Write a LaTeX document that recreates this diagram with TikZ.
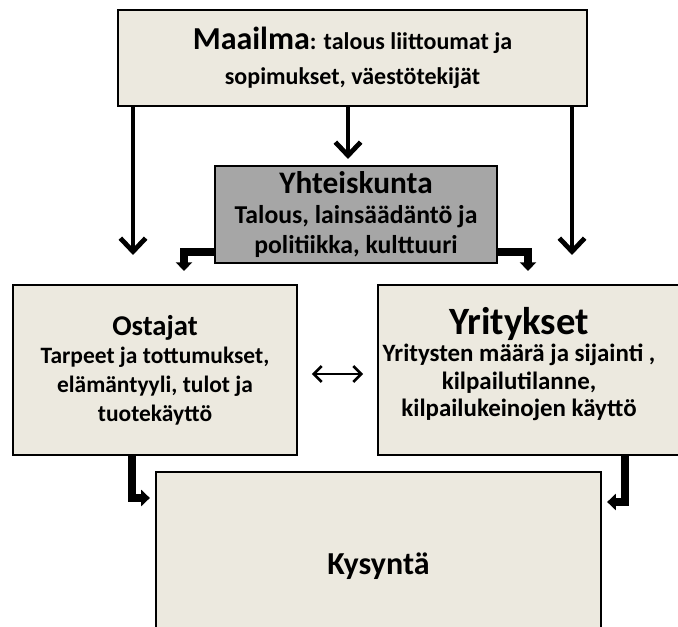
\documentclass[tikz,border=0pt]{standalone}
\usepackage{fontspec}
\setmainfont{Carlito}
\usetikzlibrary{arrows.meta}
\definecolor{boxfill}{RGB}{236,233,223}
\definecolor{midgray}{RGB}{166,166,166}

\begin{document}
\begin{tikzpicture}[
  x=0.75pt, y=0.75pt,
  bx/.style={rectangle, draw=black, line width=1.2pt, fill=boxfill,
    align=center, inner sep=0pt},
  graybx/.style={bx, fill=midgray},
  tx/.style={align=center, inner sep=0pt},
  longarr/.style={-{Straight Barb[length=10pt, width=19pt]}, line width=3.6pt, black},
  bentarr/.style={-{Triangle[length=6.5pt, width=12pt]}, line width=5.5pt, black},
  duoarr/.style={{Straight Barb[length=6pt, width=12pt]}-{Straight Barb[length=6pt, width=12pt]},
    line width=2pt, black, shorten <=10.5pt, shorten >=10.5pt},
]
  \clip (0,0) rectangle (678,627);

  \node[bx, minimum width=351.75pt, minimum height=72pt,
    font=\bfseries\fontsize{18}{26}\selectfont] (maa) at (352.5,569)
    {{\fontsize{24}{26}\selectfont Maailma}: talous liittoumat ja\\sopimukset, väestötekijät};
  \node[graybx, minimum width=211.5pt, minimum height=72.75pt,
    font=\bfseries\fontsize{19.3}{22.5}\selectfont] (yht) at (356,412.5)
    {{\fontsize{23.5}{24}\selectfont Yhteiskunta}\\Talous, lainsäädäntö ja\\politiikka, kulttuuri};
  \node[bx, minimum width=213pt, minimum height=127.5pt,
    font=\bfseries\fontsize{17.6}{21.5}\selectfont] (ost) at (155,257)
    {{\fontsize{21.5}{22.5}\selectfont Ostajat}\\Tarpeet ja tottumukset,\\elämäntyyli, tulot ja\\tuotekäyttö};
  \node[bx, minimum width=241.5pt, minimum height=127.5pt] (yri) at (539,257) {};
  \node[tx, font=\bfseries\fontsize{18.7}{20.5}\selectfont] (yrit) at (519,263)
    {{\fontsize{29}{26}\selectfont Yritykset}\\Yritysten määrä ja sijainti ,\\kilpailutilanne,\\kilpailukeinojen käyttö};
  \node[bx, minimum width=333.75pt, minimum height=141pt,
    font=\bfseries\fontsize{24}{26}\selectfont] (kys) at (378.5,61) {Kysyntä};

  % arrow ends and bends
  \coordinate (tipL) at (133,372);
  \coordinate (tipM) at (348,468);
  \coordinate (tipR) at (572,372);
  \coordinate (bYL) at (184,375);
  \coordinate (tipYL) at (184,356);
  \coordinate (bYR) at (528,375);
  \coordinate (tipYR) at (528,356);
  \coordinate (bOK) at (132,129);
  \coordinate (bYK) at (625,125);

  % from the world level down
  \draw[longarr] (maa.south -| tipL) -- (tipL);
  \draw[longarr] (maa.south -| tipM) -- (tipM);
  \draw[longarr] (maa.south -| tipR) -- (tipR);

  % society to buyers and firms
  \draw[bentarr] (yht.west |- bYL) -- (bYL) -- (tipYL);
  \draw[bentarr] (yht.east |- bYR) -- (bYR) -- (tipYR);

  % buyers <-> firms
  \draw[duoarr] ([yshift=-3pt]ost.east) -- ([yshift=-3pt]yri.west);

  % into demand
  \draw[bentarr, shorten >=4pt] (ost.south -| bOK) -- (bOK) -- (kys.west |- bOK);
  \draw[bentarr, shorten >=4pt] (yri.south -| bYK) -- (bYK) -- (kys.east |- bYK);
\end{tikzpicture}
\end{document}
